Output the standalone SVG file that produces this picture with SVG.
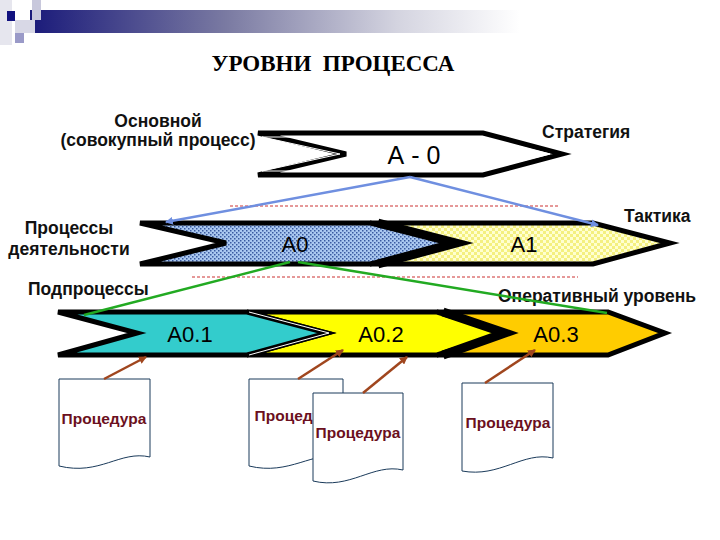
<svg xmlns="http://www.w3.org/2000/svg" width="720" height="540" viewBox="0 0 720 540">
<style>
.lbl{font-family:"Liberation Sans",Arial,sans-serif;font-size:17.5px;font-weight:bold;fill:#111;}
.big{font-family:"Liberation Sans",Arial,sans-serif;font-size:22px;fill:#000;}
.proc{font-family:"Liberation Sans",Arial,sans-serif;font-size:15.5px;font-weight:bold;fill:#6b1020;}
.chev{stroke:#000;stroke-width:5;stroke-linejoin:miter;}
.chevin{fill:none;stroke:#fff;stroke-width:1;}
.shadow{fill:none;stroke:#000;stroke-width:9;stroke-linejoin:miter;}
.doc{fill:#fff;stroke:#1a3a5a;stroke-width:1;}
.dash{stroke:#cc3333;stroke-width:1;stroke-dasharray:3,2;}
.blue{stroke:#6f8fe0;stroke-width:2.5;fill:none;}
.green{stroke:#22aa22;stroke-width:2.5;fill:none;}
.brown{stroke:#a0461e;stroke-width:2.5;fill:none;}
</style>
<defs>
<linearGradient id="bar" x1="0" y1="0" x2="1" y2="0">
<stop offset="0" stop-color="#1a1a7a"/>
<stop offset="0.4" stop-color="#7a7aa2"/>
<stop offset="0.75" stop-color="#d4d4e0"/>
<stop offset="1" stop-color="#ffffff"/>
</linearGradient>
<pattern id="dots" width="4" height="4" patternUnits="userSpaceOnUse">
<rect width="4" height="4" fill="#aac8f0"/>
<rect x="0" y="0" width="1.5" height="1.5" fill="#3a5aa0"/>
<rect x="2" y="2" width="1.5" height="1.5" fill="#3a5aa0"/>
</pattern>
<pattern id="check" width="6" height="6" patternUnits="userSpaceOnUse">
<rect width="6" height="6" fill="#ffffd0"/>
<rect x="0" y="0" width="3" height="3" fill="#f4f080"/>
<rect x="3" y="3" width="3" height="3" fill="#f4f080"/>
</pattern>
<marker id="ab" markerWidth="8" markerHeight="8" refX="7" refY="4" orient="auto" markerUnits="userSpaceOnUse"><path d="M0,0 L8,4 L0,8 z" fill="#6f8fe0"/></marker>
<marker id="ar" markerWidth="8" markerHeight="8" refX="7" refY="4" orient="auto" markerUnits="userSpaceOnUse"><path d="M0,0 L8,4 L0,8 z" fill="#a0461e"/></marker>
</defs>
<rect width="720" height="540" fill="#fff"/>
<g id="decor">
<rect x="0" y="0" width="12" height="45" fill="#e6e6ee"/>
<rect x="30" y="10" width="490" height="23" fill="url(#bar)"/>
<rect x="32" y="0" width="9" height="20" fill="#c8c8dc"/>
<rect x="15" y="20" width="20" height="13" fill="#d8d8e6"/>
<rect x="7" y="11" width="8" height="10" fill="#121280"/>
<rect x="15" y="33" width="9" height="10" fill="#9a9ac8"/>
</g>
<text x="333" y="71" text-anchor="middle" xml:space="preserve" font-family="Liberation Serif,'Times New Roman',serif" font-size="23" font-weight="bold">УРОВНИ  ПРОЦЕССА</text>
<g id="labels">
<text class="lbl" x="158" y="127" text-anchor="middle">Основной</text>
<text class="lbl" x="158" y="146" text-anchor="middle">(совокупный процесс)</text>
<text class="lbl" x="542" y="138">Стратегия</text>
<text class="lbl" x="69" y="234" text-anchor="middle">Процессы</text>
<text class="lbl" x="69" y="255" text-anchor="middle">деятельности</text>
<text class="lbl" x="624" y="222">Тактика</text>
<text class="lbl" x="28" y="295">Подпроцессы</text>
<text class="lbl" x="498" y="302">Оперативный уровень</text>
</g>
<g id="dashes">
<line class="dash" x1="230" y1="206" x2="558" y2="206"/>
<line class="dash" x1="192" y1="277" x2="578" y2="277"/>
</g>
<g id="nA-0">
<polygon class="chev" fill="#fff" points="258,133 483,133 562,154 483,175 258,175 346,154"/>
<polygon class="chevin" points="262,137 481,137 550,154 481,171 262,171 340,154"/>
<text x="414" y="164" text-anchor="middle" font-family="Liberation Sans,Arial,sans-serif" font-size="25">А - 0</text>
</g>
<g id="nA1">
<polygon class="chev" fill="url(#check)" points="370,223 593,223 670,243 593,264 370,264 458,243"/>
<text class="big" x="524" y="252" text-anchor="middle">А1</text>
</g>
<g id="nA0">
<polygon class="chev" fill="url(#dots)" points="140,223 370,223 458,243 370,264 140,264 226,243"/>
<polyline class="shadow" points="378,223 456,243 378,264"/>
<text class="big" x="295" y="252" text-anchor="middle">А0</text>
</g>
<g id="nA03">
<polygon class="chev" fill="#ffcc00" points="437,312 608,312 665,333 608,355 437,355 507,333"/>
<text class="big" x="556" y="342" text-anchor="middle">А0.3</text>
</g>
<g id="nA02">
<polygon class="chev" fill="#ffff00" points="247,312 437,312 507,333 437,355 247,355 327,333"/>
<polyline class="shadow" points="443,312 505,333 443,355"/>
<text class="big" x="381" y="342" text-anchor="middle">А0.2</text>
</g>
<g id="nA01">
<polygon class="chev" fill="#33cccc" points="58,312 247,312 327,333 247,355 58,355 137,333"/>
<polyline class="chevin" points="249,312 329,333 249,355"/>
<text class="big" x="190" y="342" text-anchor="middle">А0.1</text>
</g>
<g id="docs">
<g id="doc1"><path class="doc" d="M59,379 H150 V457 C120,450 100,476 59,466 Z"/><text class="proc" x="104" y="424" text-anchor="middle">Процедура</text></g>
<g id="doc2"><path class="doc" d="M249,379 H343 V457 C313,450 290,476 249,466 Z"/><text class="proc" x="297" y="421" text-anchor="middle">Процедура</text></g>
<g id="doc3"><path class="doc" d="M313,393 H403 V470 C373,463 350,490 313,481 Z"/><text class="proc" x="358" y="438" text-anchor="middle">Процедура</text></g>
<g id="doc4"><path class="doc" d="M462,383 H553 V458 C523,451 500,478 462,471 Z"/><text class="proc" x="508" y="428" text-anchor="middle">Процедура</text></g>
</g>
<g id="connectors">
<line class="blue" x1="410" y1="177" x2="166" y2="222" marker-end="url(#ab)"/>
<line class="blue" x1="410" y1="177" x2="598" y2="225" marker-end="url(#ab)"/>
<line class="green" x1="290" y1="262" x2="84" y2="315"/>
<line class="green" x1="298" y1="262" x2="607" y2="313"/>
<line class="brown" x1="104" y1="379" x2="146" y2="357" marker-end="url(#ar)"/>
<line class="brown" x1="298" y1="379" x2="343" y2="350" marker-end="url(#ar)"/>
<line class="brown" x1="363" y1="393" x2="407" y2="357" marker-end="url(#ar)"/>
<line class="brown" x1="485" y1="383" x2="535" y2="350" marker-end="url(#ar)"/>
</g>
</svg>
